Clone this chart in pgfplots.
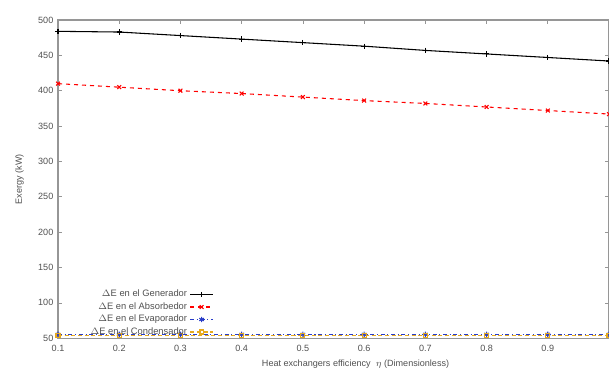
\documentclass[border=0pt]{standalone}
\usepackage{pgfplots}
\pgfplotsset{compat=1.18}
\usepackage{fontspec}
\setmainfont{Liberation Sans}
\definecolor{axgray}{RGB}{150,150,150}
\definecolor{txtgray}{RGB}{80,80,80}
\definecolor{evblue}{RGB}{40,60,200}
\definecolor{conorange}{RGB}{230,170,30}
\begin{document}
\begin{tikzpicture}
\path[use as bounding box] (-43.5pt,-28.5pt) rectangle (413pt,253.5pt);
\begin{axis}[
  at={(0,0)}, anchor=south west,
  scale only axis, width=413pt, height=238.5pt,
  xmin=0.1, xmax=1.0, ymin=50, ymax=500,
  xtick={0.1,0.2,0.3,0.4,0.5,0.6,0.7,0.8,0.9},
  xticklabels={0.1,0.2,0.3,0.4,0.5,0.6,0.7,0.8,0.9},
  ytick={50,100,...,500},
  tick align=inside,
  major tick length=3pt,
  axis line style={axgray, line width=0.8pt},
  every tick/.style={axgray, line width=0.5pt},
  tick label style={font=\fontsize{6.8}{7}\selectfont, text=txtgray},
  xticklabel style={yshift=-2pt},
  /pgf/number format/assume math mode=true,
  xlabel={Heat exchangers efficiency\ \ $\eta$ (Dimensionless)},
  ylabel={Exergy (kW)},
  label style={font=\fontsize{6.8}{7}\selectfont, text=txtgray},
  xlabel style={at={(ticklabel cs:0.54)}, yshift=1pt},
  ylabel style={yshift=4pt},
  legend style={draw=none, fill=none, at={(axis description cs:0.29,-0.012)}, anchor=south east,
    font=\fontsize{7}{8}\selectfont, text=txtgray, row sep=-1.2pt},
  legend cell align=right,
  legend plot pos=right,
  every axis plot/.append style={line width=0.8pt},
]
\addplot[black, mark=+, mark size=2pt] coordinates {
(0.1,484) (0.2,483) (0.3,478) (0.4,473) (0.5,468) (0.6,463) (0.7,457) (0.8,452) (0.9,447) (1.0,442)};
\addlegendentry{$\Delta$E en el Generador}
\addplot[red, dashed, mark=x, mark size=2pt, mark options={solid}] coordinates {
(0.1,410) (0.2,405) (0.3,400) (0.4,396) (0.5,391) (0.6,386) (0.7,382) (0.8,377) (0.9,372) (1.0,367)};
\addlegendentry{$\Delta$E en el Absorbedor}
\addplot[evblue, dash dot, mark=asterisk, mark size=2pt, mark options={solid}] coordinates {
(0.1,55.5) (0.2,55.5) (0.3,55.5) (0.4,55.5) (0.5,55.5) (0.6,55.5) (0.7,55.5) (0.8,55.5) (0.9,55.5) (1.0,55.5)};
\addlegendentry{$\Delta$E en el Evaporador}
\addplot[conorange, densely dashed, mark=square, mark size=1.5pt, mark options={solid}] coordinates {
(0.1,54) (0.2,54) (0.3,54) (0.4,54) (0.5,54) (0.6,54) (0.7,54) (0.8,54) (0.9,54) (1.0,54)};
\addlegendentry{$\Delta$E en el Condensador}
\end{axis}
\end{tikzpicture}
\end{document}
